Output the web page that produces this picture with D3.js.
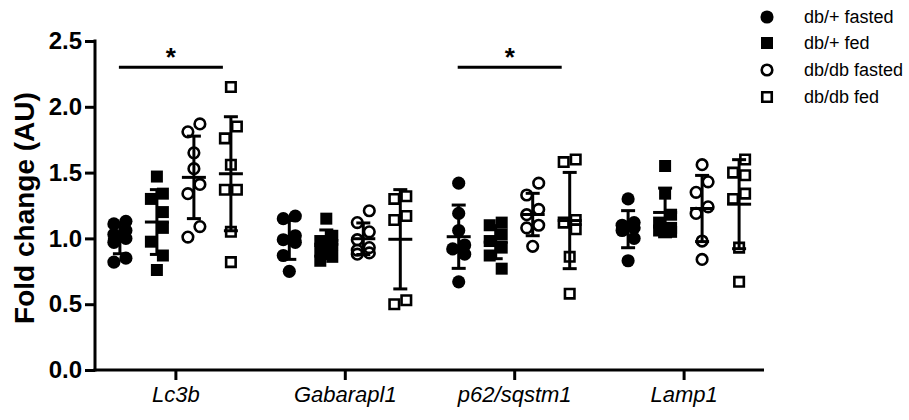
<!DOCTYPE html>
<html>
<head>
<meta charset="utf-8">
<script src="https://cdn.jsdelivr.net/npm/d3@7"></script>
<style>
  body { margin: 0; background: #fff; }
  text { font-family: "Liberation Sans", Arial, Helvetica, sans-serif; }
</style>
</head>
<body>
<svg id="chart" width="909" height="420"></svg>
<script>
// Genes on the x axis and the four animal groups
const genes = ["Lc3b", "Gabarapl1", "p62/sqstm1", "Lamp1"];
const groups = ["db/+ fasted", "db/+ fed", "db/db fasted", "db/db fed"];

// Individual fold-change values, one list per gene (order follows `genes`)
const dbPlusFasted = [
  [1.13, 1.11, 1.06, 1.03, 1.00, 0.97, 0.85, 0.82],
  [1.17, 1.15, 1.02, 0.99, 0.97, 0.87, 0.75],
  [1.42, 1.19, 1.06, 0.95, 0.92, 0.88, 0.67],
  [1.30, 1.12, 1.10, 1.08, 1.06, 1.00, 0.83]
];
const dbPlusFed = [
  [1.47, 1.34, 1.30, 1.20, 1.08, 0.975, 0.87, 0.76],
  [1.15, 1.02, 0.98, 0.95, 0.90, 0.86, 0.83],
  [1.12, 1.10, 1.03, 0.98, 0.93, 0.87, 0.77],
  [1.55, 1.34, 1.18, 1.12, 1.08, 1.06, 1.05]
];
const dbdbFasted = [
  [1.87, 1.81, 1.65, 1.53, 1.41, 1.34, 1.09, 1.01],
  [1.21, 1.12, 1.05, 0.99, 0.93, 0.91, 0.89, 0.88],
  [1.42, 1.33, 1.22, 1.18, 1.10, 1.08, 0.94],
  [1.56, 1.43, 1.35, 1.24, 1.19, 0.98, 0.84]
];
const dbdbFed = [
  [2.15, 1.85, 1.76, 1.56, 1.37, 1.37, 1.05, 0.82],
  [1.32, 1.30, 1.17, 1.14, 0.53, 0.50],
  [1.60, 1.58, 1.14, 1.12, 1.07, 0.86, 0.58],
  [1.60, 1.50, 1.48, 1.34, 1.30, 0.93, 0.67]
];

// Y axis ticks
const yTicks = [0, 0.5, 1.0, 1.5, 2.0, 2.5];

// Significance brackets (gene, height, label)
const sigGenes = ["Lc3b", "p62/sqstm1"];
const sigHeights = [2.3, 2.3];
const sigLabels = ["*", "*"];

const seriesValues = [dbPlusFasted, dbPlusFed, dbdbFasted, dbdbFed];
const seriesStyle = [
  { shape: d3.symbolCircle, filled: true },
  { shape: d3.symbolSquare, filled: true },
  { shape: d3.symbolCircle, filled: false },
  { shape: d3.symbolSquare, filled: false }
];

const svg = d3.select("#chart");

const x = d3.scalePoint().domain(genes).range([95, 764]).padding(0.4746);
const xs = d3.scalePoint().domain(groups).range([-55.5, 55.5]);
const y = d3.scaleLinear().domain([0, 2.5]).range([370, 41]);

function symbolPath(style) {
  if (style.filled) {
    return d3.symbol().type(style.shape).size(style.shape === d3.symbolCircle ? 136 : 144)();
  }
  return d3.symbol().type(style.shape).size(style.shape === d3.symbolCircle ? 88 : 90)();
}

// Axes
const yAxis = d3.axisLeft(y).tickValues(yTicks).tickFormat(d3.format(".1f"))
  .tickSize(10).tickSizeOuter(0).tickPadding(3);
const gy = svg.append("g").attr("transform", "translate(95,0)").call(yAxis);
gy.selectAll("path, line").attr("stroke", "#000").attr("stroke-width", 3);
gy.select(".domain").attr("d", `M0,${y(2.5) - 1.5}V${y(0) + 1.5}`);
gy.selectAll("text").attr("font-size", 24).attr("font-weight", "bold").attr("fill", "#000");

const xAxis = d3.axisBottom(x).tickSize(10).tickSizeOuter(0).tickPadding(6);
const gx = svg.append("g").attr("transform", "translate(0,370)").call(xAxis);
gx.selectAll("path, line").attr("stroke", "#000").attr("stroke-width", 3);
gx.select(".domain").attr("d", "M93.5,0H764");
gx.selectAll("text").attr("font-size", 22).attr("font-style", "italic").attr("fill", "#000");

svg.append("text")
  .attr("transform", "translate(34,208) rotate(-90)")
  .attr("text-anchor", "middle")
  .attr("font-size", 28).attr("font-weight", "bold")
  .text("Fold change (AU)");

// Spread neighbouring points sideways so close values stay visible
function spread(values) {
  const sorted = values.map((v, i) => ({ v, i })).sort((a, b) => b.v - a.v);
  const clusters = [];
  sorted.forEach((p, k) => {
    if (k > 0 && Math.abs(y(p.v) - y(sorted[k - 1].v)) < 14) clusters[clusters.length - 1].push(p);
    else clusters.push([p]);
  });
  const out = [];
  clusters.forEach(c => {
    c.forEach((p, k) => {
      out.push({ v: p.v, dx: c.length === 1 ? 0 : (k % 2 === 0 ? 6 : -6) });
    });
  });
  return out;
}

const plot = svg.append("g");
seriesValues.forEach((perGene, s) => {
  const style = seriesStyle[s];
  const path = symbolPath(style);
  genes.forEach((gene, g) => {
    const vals = perGene[g];
    const cx = x(gene) + xs(groups[s]);
    plot.selectAll(null).data(spread(vals)).enter().append("path")
      .attr("d", path)
      .attr("transform", d => `translate(${cx + d.dx},${y(d.v)})`)
      .attr("fill", style.filled ? "#000" : "none")
      .attr("stroke", style.filled ? "none" : "#000")
      .attr("stroke-width", 2.6);

    // Mean ± SD
    const m = d3.mean(vals), sd = d3.deviation(vals);
    const eb = plot.append("g").attr("stroke", "#000").attr("stroke-width", 3);
    eb.append("line").attr("x1", cx).attr("x2", cx).attr("y1", y(m + sd)).attr("y2", y(m - sd));
    eb.append("line").attr("x1", cx - 12).attr("x2", cx + 12).attr("y1", y(m)).attr("y2", y(m));
    [m + sd, m - sd].forEach(v => {
      eb.append("line").attr("x1", cx - 7).attr("x2", cx + 7).attr("y1", y(v)).attr("y2", y(v));
    });
  });
});

// Significance brackets
sigGenes.forEach((gene, i) => {
  const x1 = x(gene) + xs(groups[0]) - 1;
  const x2 = x(gene) + xs(groups[3]) - 8;
  svg.append("line").attr("x1", x1).attr("x2", x2)
    .attr("y1", y(sigHeights[i])).attr("y2", y(sigHeights[i]))
    .attr("stroke", "#000").attr("stroke-width", 3);
  svg.append("text").attr("x", (x1 + x2) / 2).attr("y", y(sigHeights[i]) - 1)
    .attr("text-anchor", "middle").attr("font-size", 26).attr("font-weight", "bold")
    .text(sigLabels[i]);
});

// Legend
const legend = svg.append("g");
groups.forEach((name, i) => {
  const ly = [17, 43, 70, 97][i];
  const style = seriesStyle[i];
  legend.append("path").attr("d", symbolPath(style))
    .attr("transform", `translate(767,${ly})`)
    .attr("fill", style.filled ? "#000" : "none")
    .attr("stroke", style.filled ? "none" : "#000")
    .attr("stroke-width", 2.6);
  legend.append("text").attr("x", 804).attr("y", ly + 6)
    .attr("font-size", 18).text(name);
});
</script>
</body>
</html>
